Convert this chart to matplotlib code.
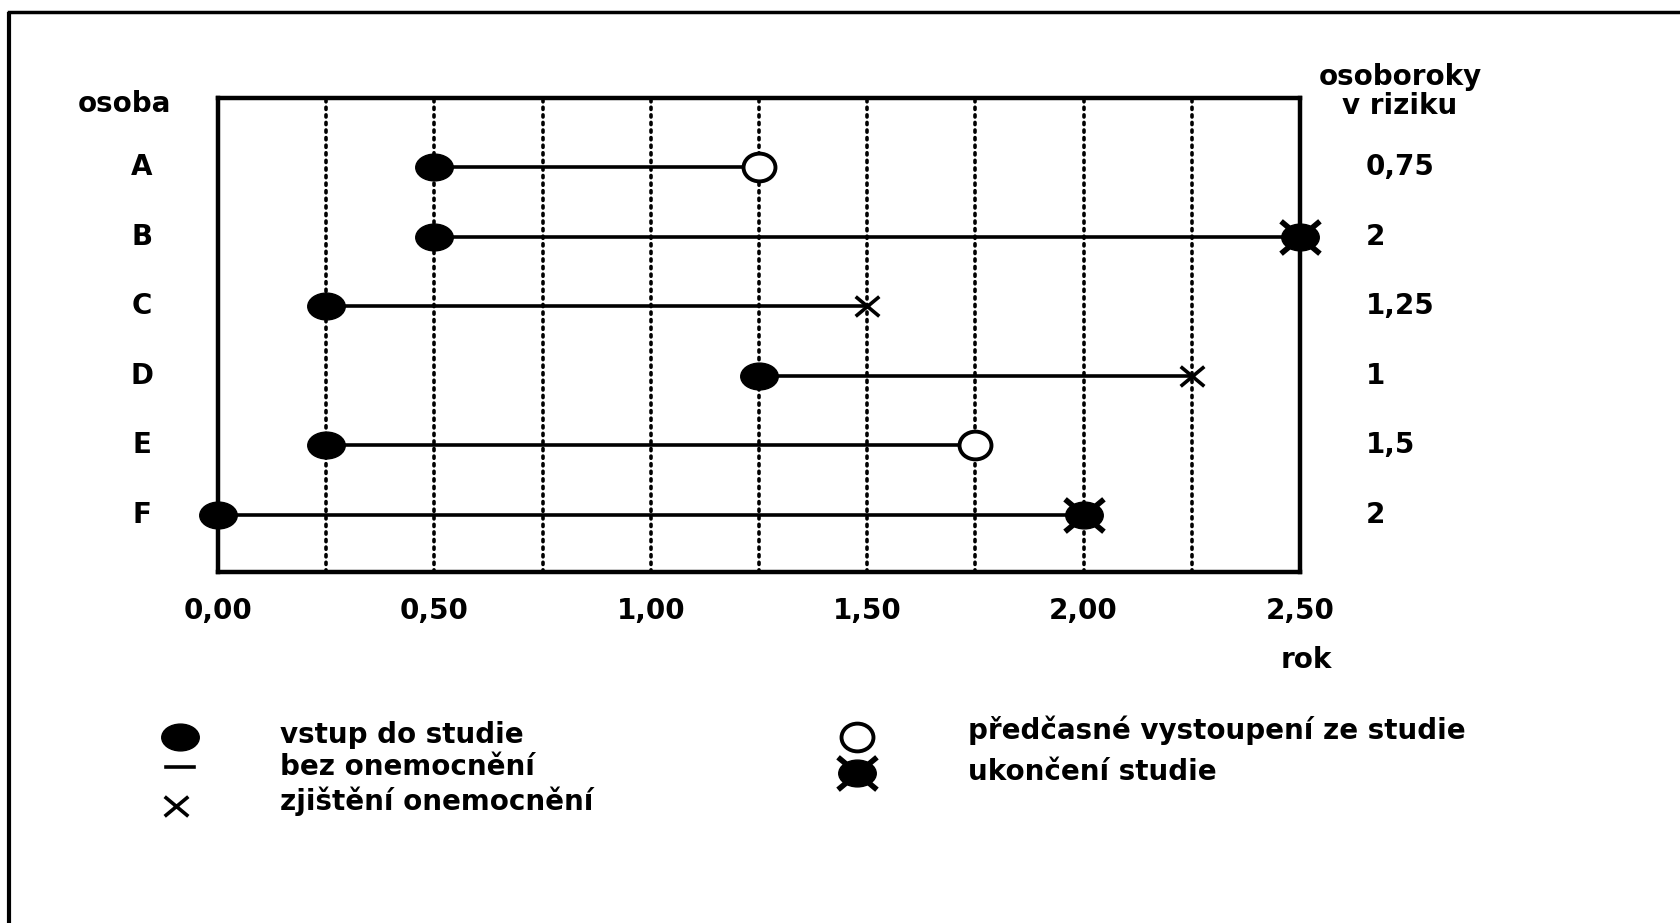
import numpy as np
import matplotlib.pyplot as plt
from matplotlib.path import Path
from matplotlib.transforms import Affine2D

persons = ["A", "B", "C", "D", "E", "F"]
start = [0.50, 0.50, 0.25, 1.25, 0.25, 0.00]
end = [1.25, 2.50, 1.50, 2.25, 1.75, 2.00]
end_type = ["early", "finish", "disease", "disease", "early", "finish"]
person_years = [0.75, 2, 1.25, 1, 1.5, 2]
xticks = [0.0, 0.5, 1.0, 1.5, 2.0, 2.5]
xticklabels = ["0,00", "0,50", "1,00", "1,50", "2,00", "2,50"]
legend_left = ["vstup do studie", "bez onemocnění", "zjištění onemocnění"]
legend_right = ["předčasné vystoupení ze studie", "ukončení studie"]

plt.rcParams['font.family'] = ['DejaVu Sans']
plt.rcParams['font.weight'] = 'bold'
FS = 20

# horizontally stretched markers (the scan is wider than tall)
ell = Path.unit_circle().transformed(Affine2D().scale(1.4, 1.0))
ell_open = Path.unit_circle().transformed(Affine2D().scale(1.15, 1.0))
xm = Path([(-1, -1), (1, 1), (-1, 1), (1, -1)],
          [Path.MOVETO, Path.LINETO, Path.MOVETO, Path.LINETO]).transformed(
    Affine2D().scale(1.2, 1.0))

W, H = 1681, 923
fig = plt.figure(figsize=(W / 100, H / 100), dpi=100)
ax = fig.add_axes([218 / W, 1 - 572 / H, (1300 - 218) / W, (572 - 98) / H])

ax.set_xlim(0, 2.5)
ax.set_ylim(5.82, -0.99)
ax.set_axisbelow(True)
for gx in np.arange(0.25, 2.5, 0.25):
    ax.axvline(gx, color='black', lw=2.6, linestyle=(0, (0.6, 1.5)),
               dash_capstyle='round', zorder=1)
ax.set_xticks(xticks)
ax.set_xticklabels(xticklabels, fontsize=FS, fontweight='bold')
ax.tick_params(axis='x', which='both', length=0, pad=18)
ax.set_yticks([])
for s in ax.spines.values():
    s.set_linewidth(3.2)

ms_fill = 27
for i, p in enumerate(persons):
    y = i
    ax.plot([start[i], end[i]], [y, y], color='black', lw=2.6, zorder=3,
            solid_capstyle='butt')
    ax.plot(start[i], y, marker=ell, ls='none', ms=ms_fill, color='black',
            zorder=4, clip_on=False)
    t = end_type[i]
    if t == "early":
        ax.plot(end[i], y, marker=ell_open, ls='none', ms=23, mfc='white',
                mec='black', mew=2.8, zorder=4, clip_on=False)
    elif t == "disease":
        ax.plot(end[i], y, marker=xm, ls='none', ms=17, mec='black', mew=2.6,
                zorder=4, clip_on=False)
    else:
        ax.plot(end[i], y, marker=ell, ls='none', ms=ms_fill, color='black',
                zorder=4, clip_on=False)
        ax.plot(end[i], y, marker=xm, ls='none', ms=28, mec='black', mew=4,
                zorder=5, clip_on=False)
    ax.text(-76 / (1300 - 218), y, p, transform=ax.get_yaxis_transform(),
            ha='center', va='center', fontsize=FS, fontweight='bold')
    ax.text(1 + 66 / (1300 - 218), y, f"{person_years[i]:g}".replace('.', ','),
            transform=ax.get_yaxis_transform(), ha='left', va='center',
            fontsize=FS, fontweight='bold')


def ftext(x, y, s, fontsize=FS, **kw):
    fig.text(x / W, 1 - y / H, s, fontsize=fontsize, fontweight='bold', **kw)


ftext(124, 104, "osoba", ha='center', va='center')
ftext(1400, 77, "osoboroky", ha='center', va='center')
ftext(1400, 106, "v riziku", ha='center', va='center')
ftext(1306, 660, "rok", ha='center', va='center')

# legend
ov = fig.add_axes([0, 0, 1, 1])
ov.set_xlim(0, W)
ov.set_ylim(H, 0)
ov.axis('off')
ov.plot(180, 737, marker=ell, ls='none', ms=ms_fill, color='black')
ov.plot([166, 194], [767, 767], color='black', lw=2.6)
ov.plot(176, 806, marker=xm, ls='none', ms=17, mec='black', mew=2.6)
ov.plot(857, 737, marker=ell_open, ls='none', ms=23, mfc='white', mec='black', mew=2.8)
ov.plot(857, 773, marker=ell, ls='none', ms=ms_fill, color='black')
ov.plot(857, 773, marker=xm, ls='none', ms=28, mec='black', mew=4)
for txt, yy in zip(legend_left, [735, 767, 801]):
    ftext(280, yy, txt, ha='left', va='center')
for txt, yy in zip(legend_right, [730, 772]):
    ftext(968, yy, txt, ha='left', va='center')

# page border of the scan
ov.plot([9, 9], [14, H], color='black', lw=3)
ov.plot([9, W], [12, 12], color='black', lw=2.5)

fig.savefig("out.png", dpi=100)
